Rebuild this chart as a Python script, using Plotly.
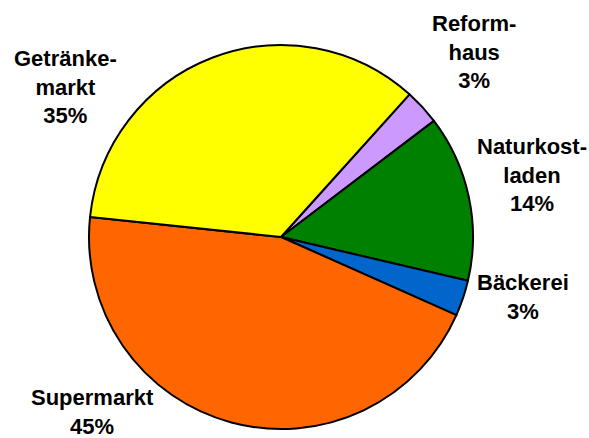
import plotly.graph_objects as go

# Shares of purchase locations (percent), clockwise from the top-right
labels = ["Reformhaus", "Naturkostladen", "Bäckerei", "Supermarkt", "Getränkemarkt"]
label_text = ["Reform-<br>haus", "Naturkost-<br>laden", "Bäckerei", "Supermarkt", "Getränke-<br>markt"]
values = [3, 14, 3, 45, 35]
colors = ["#CC99FF", "#008000", "#0066CC", "#FF6600", "#FFFF00"]

# Label anchor points in pixels (canvas 589 x 438)
label_px = [(474, 52), (532, 175), (523, 297), (92, 412), (65, 87)]

W, H = 589, 438
cx, cy, r = 281, 237, 192

fig = go.Figure(
    go.Pie(
        labels=labels,
        values=values,
        sort=False,
        direction="clockwise",
        rotation=42,
        marker=dict(colors=colors, line=dict(color="black", width=2)),
        textinfo="none",
        hoverinfo="label+percent",
        showlegend=False,
        domain=dict(
            x=[(cx - r) / W, (cx + r) / W],
            y=[(H - cy - r) / H, (H - cy + r) / H],
        ),
    )
)

for txt, v, (px, py) in zip(label_text, values, label_px):
    fig.add_annotation(
        x=px / W,
        y=1 - py / H,
        xref="paper",
        yref="paper",
        text=f"<b>{txt}<br>{v}%</b>",
        showarrow=False,
        xanchor="center",
        yanchor="middle",
        align="center",
        font=dict(family="Liberation Sans, Arial, sans-serif", size=22, color="black"),
    )

fig.update_layout(
    width=W,
    height=H,
    margin=dict(l=0, r=0, t=0, b=0),
    paper_bgcolor="white",
    plot_bgcolor="white",
)

fig.write_html("out.html")
